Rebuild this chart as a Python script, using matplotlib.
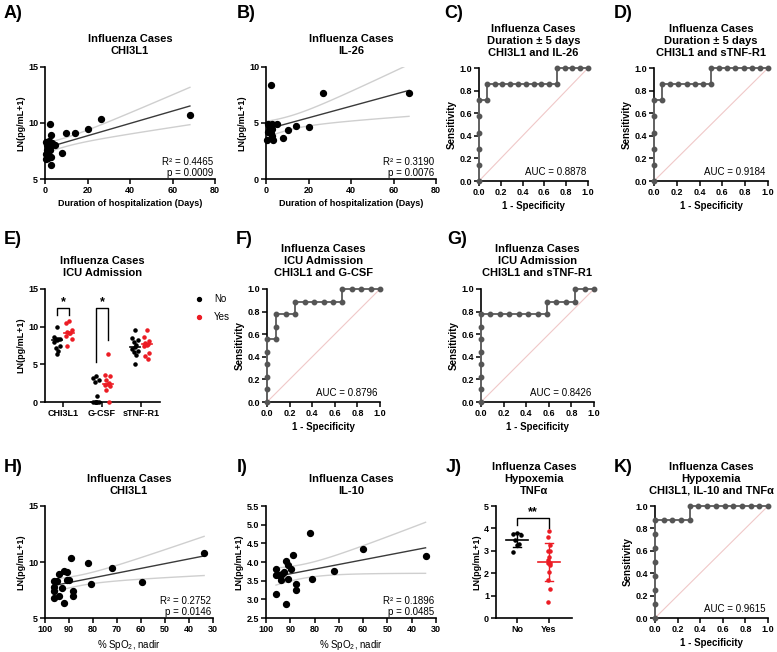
import numpy as np
import matplotlib
matplotlib.use("Agg")
import matplotlib.pyplot as plt

plt.rcParams['font.family'] = ['Liberation Sans', 'DejaVu Sans']
plt.rcParams['mathtext.default'] = 'regular'

W, H = 777, 652
RED = '#ec1c24'

# A) CHI3L1 vs duration of hospitalization
a_days = [0.5, 1.0, 0.8, 1.2, 0.6, 1.5, 0.3, 2.0, 2.2, 2.5, 3.0, 2.4, 2.8, 2.8,
          3.5, 4.7, 7.9, 9.9, 14.2, 20.0, 26.5, 68.2]
a_ln = [8.3, 8.0, 7.6, 7.4, 7.2, 6.9, 6.8, 8.4, 7.9, 7.6, 7.0, 9.87, 8.9, 6.25,
        8.2, 8.0, 7.3, 9.07, 9.15, 9.5, 10.4, 10.75]

# B) IL-26 vs duration of hospitalization
b_days = [2.4, 26.8, 67.3, 14.2, 10.2, 20.3, 7.9, 5.0, 0.8, 1.9, 3.0, 1.1, 0.3,
          3.0, 3.5, 2.4, 1.4, 2.7]
b_ln = [8.37, 7.69, 7.7, 4.72, 4.36, 4.6, 3.62, 4.9, 4.9, 4.66, 4.5, 4.2, 3.5,
        3.8, 3.5, 4.07, 4.72, 4.9]

# ROC curves (1 - specificity, sensitivity)
c_fpr = [0, 0, 0, 0, 0, 0, 1/14, 1/14] + [k/14 for k in range(2, 11)] + [10/14] + [k/14 for k in range(11, 15)]
c_tpr = [0, 1/7, 2/7, 3/7, 4/7, 5/7, 5/7, 6/7] + [6/7] * 9 + [1.0] + [1.0] * 4
d_fpr = [0, 0, 0, 0, 0, 0, 1/14, 1/14] + [k/14 for k in range(2, 8)] + [7/14] + [k/14 for k in range(8, 15)]
d_tpr = [0, 1/7, 2/7, 3/7, 4/7, 5/7, 5/7, 6/7] + [6/7] * 6 + [1.0] + [1.0] * 7
f_fpr = [0, 0, 0, 0, 0, 0, 1/12, 1/12, 1/12, 2/12, 3/12, 3/12, 4/12, 5/12, 6/12,
         7/12, 8/12, 8/12, 9/12, 10/12, 11/12, 1.0]
f_tpr = [0, 1/9, 2/9, 3/9, 4/9, 5/9, 5/9, 6/9, 7/9, 7/9, 7/9, 8/9, 8/9, 8/9, 8/9,
         8/9, 8/9, 1.0, 1.0, 1.0, 1.0, 1.0]
g_fpr = [0] * 8 + [k/12 for k in range(1, 8)] + [7/12, 8/12, 9/12, 10/12, 10/12, 11/12, 1.0]
g_tpr = [k/9 for k in range(0, 8)] + [7/9] * 7 + [8/9, 8/9, 8/9, 8/9, 1.0, 1.0, 1.0]
k_fpr = [0] * 8 + [1/13, 2/13, 3/13, 4/13, 4/13] + [k/13 for k in range(5, 14)]
k_tpr = [k/8 for k in range(0, 8)] + [7/8] * 4 + [1.0] + [1.0] * 9

# E) ICU admission (No / Yes)
e_markers = ['CHI3L1', 'G-CSF', 'sTNF-R1']
e_no = [[9.9, 8.6, 8.4, 8.3, 8.3, 8.2, 7.9, 7.5, 7.2, 6.8, 6.4],
        [3.4, 3.2, 2.9, 2.7, 0.8, 0.0, 0.0, 0.0, 0.0, 0.0, 0.0],
        [9.5, 8.5, 8.2, 7.9, 7.6, 7.3, 7.0, 6.8, 6.6, 6.3, 5.1]]
e_yes = [[10.8, 10.5, 9.6, 9.3, 9.2, 9.1, 8.7, 8.3, 7.4],
         [6.4, 3.6, 3.4, 2.9, 2.5, 2.4, 2.3, 2.1, 1.6, 0.0],
         [9.5, 8.6, 8.1, 7.8, 7.7, 7.6, 7.5, 6.5, 6.1, 5.7]]

# H) CHI3L1 vs SpO2 nadir
h_spo2 = [96.1, 95.1, 96.1, 96.1, 96.1, 94.0, 94.0, 93.0, 92.0, 91.0, 92.1, 91.0,
          90.0, 89.2, 88.2, 88.2, 82.0, 81.0, 72.0, 59.7, 33.7]
h_ln = [8.27, 8.3, 7.77, 7.4, 6.8, 8.9, 7.0, 7.68, 9.2, 9.1, 6.34, 8.36, 8.4,
        10.39, 7.4, 7.0, 9.9, 8.07, 9.5, 8.24, 10.77]

# I) IL-10 vs SpO2 nadir
i_spo2 = [95.9, 95.9, 95.9, 94.8, 93.8, 93.4, 92.7, 91.9, 91.9, 90.9, 90.9, 89.9,
          88.8, 87.7, 87.7, 81.9, 81.0, 72.0, 60.0, 34.3]
i_ln = [3.82, 3.64, 3.13, 3.64, 3.51, 3.69, 3.73, 4.04, 2.88, 3.91, 3.55, 3.82,
        4.18, 3.40, 3.26, 4.78, 3.55, 3.76, 4.35, 4.15]

# J) TNFa by hypoxemia
j_groups = ['No', 'Yes']
j_no = [3.8, 3.75, 3.7, 3.5, 3.3, 3.25, 2.95]
j_yes = [3.87, 3.62, 3.24, 2.98, 2.98, 2.72, 2.57, 2.47, 2.47, 2.38, 2.05, 1.68, 1.31, 0.71]


fig = plt.figure(figsize=(W / 100, H / 100), dpi=100)


def place(x0, x1, y0, y1):
    return fig.add_axes([x0 / W, 1 - y1 / H, (x1 - x0) / W, (y1 - y0) / H])


def style(ax, title):
    for s in ['top', 'right']:
        ax.spines[s].set_visible(False)
    for s in ['left', 'bottom']:
        ax.spines[s].set_linewidth(1.2)
    ax.tick_params(width=1.1, length=3.5, labelsize=6.5, pad=1.5)
    for t in ax.get_xticklabels() + ax.get_yticklabels():
        t.set_fontweight('bold')
    ax.set_title(title, fontsize=8, fontweight='bold', pad=9, linespacing=1.25)


def panel_label(x, y, label):
    fig.text(x / W, 1 - y / H, label, fontsize=13, fontweight='bold', va='center')


def regression(ax, x, y, r2, p):
    x = np.asarray(x)
    y = np.asarray(y)
    slope, icpt = np.polyfit(x, y, 1)
    n = len(x)
    s = np.sqrt(np.sum((y - (slope * x + icpt)) ** 2) / (n - 2))
    xs = np.linspace(x.min(), x.max(), 100)
    ys = slope * xs + icpt
    se = s * np.sqrt(1 / n + (xs - x.mean()) ** 2 / np.sum((x - x.mean()) ** 2))
    ax.plot(xs, ys + 2.09 * se, color='#cfcfcf', lw=1)
    ax.plot(xs, ys - 2.09 * se, color='#cfcfcf', lw=1)
    ax.plot(xs, ys, color='#3a3a3a', lw=1)
    ax.scatter(x, y, s=18, color='black', zorder=3, clip_on=False)
    ax.text(0.99, 0.15, f'R² = {r2}', transform=ax.transAxes, ha='right', va='center', fontsize=7)
    ax.text(0.99, 0.05, f'p = {p}', transform=ax.transAxes, ha='right', va='center', fontsize=7)
    ax.set_ylabel('LN(pg/mL+1)', fontsize=6.5, fontweight='bold', labelpad=2)


def roc(ax, fpr, tpr, auc):
    ax.plot([0, 1], [0, 1], color='#f0c8c8', lw=0.8)
    ax.plot(fpr, tpr, color='#666666', lw=1.4, marker='o', markersize=3.2,
            markerfacecolor='#555555', markeredgecolor='#555555', clip_on=False, zorder=3)
    ax.set_xlim(0, 1)
    ax.set_ylim(0, 1)
    ticks = np.arange(0, 1.01, 0.2)
    ax.set_xticks(ticks)
    ax.set_yticks(ticks)
    ax.set_xticklabels([f'{t:.1f}' for t in ticks])
    ax.set_yticklabels([f'{t:.1f}' for t in ticks])
    ax.text(0.98, 0.08, f'AUC = {auc}', transform=ax.transAxes, ha='right', va='center', fontsize=7)
    ax.set_xlabel('1 - Specificity', fontsize=7, fontweight='bold', labelpad=3)
    ax.set_ylabel('Sensitivity', fontsize=7, fontweight='bold', labelpad=2)


def spread(vals, center, w):
    pattern = [0, -1, 1, -0.5, 0.5]
    order = np.argsort(vals)[::-1]
    xs = np.zeros(len(vals))
    for k, idx in enumerate(order):
        xs[idx] = center + pattern[k % 5] * w
    return xs


def bracket(ax, x0, x1, ytop, yl, yr, mark):
    ax.plot([x0, x0, x1, x1], [yl, ytop, ytop, yr], color='black', lw=1)
    ax.text((x0 + x1) / 2, ytop, mark, ha='center', va='bottom', fontsize=9, fontweight='bold')


# --- A
ax = place(45, 215, 67, 179)
regression(ax, a_days, a_ln, '0.4465', '0.0009')
ax.set_xlim(0, 80)
ax.set_ylim(5, 15)
ax.set_xticks([0, 20, 40, 60, 80])
ax.set_yticks([5, 10, 15])
ax.set_xlabel('Duration of hospitalization (Days)', fontsize=6.5, fontweight='bold', labelpad=3)
style(ax, 'Influenza Cases\nCHI3L1')
panel_label(4, 14, 'A)')

# --- B
ax = place(266, 436, 67, 179)
regression(ax, b_days, b_ln, '0.3190', '0.0076')
ax.set_xlim(0, 80)
ax.set_ylim(0, 10)
ax.set_xticks([0, 20, 40, 60, 80])
ax.set_yticks([0, 5, 10])
ax.set_xlabel('Duration of hospitalization (Days)', fontsize=6.5, fontweight='bold', labelpad=3)
style(ax, 'Influenza Cases\nIL-26')
panel_label(237, 14, 'B)')

# --- C
ax = place(479, 588, 68, 181)
roc(ax, c_fpr, c_tpr, '0.8878')
style(ax, 'Influenza Cases\nDuration ± 5 days\nCHI3L1 and IL-26')
panel_label(444, 14, 'C)')

# --- D
ax = place(654, 768, 68, 181)
roc(ax, d_fpr, d_tpr, '0.9184')
style(ax, 'Influenza Cases\nDuration ± 5 days\nCHI3L1 and sTNF-R1')
panel_label(614, 14, 'D)')

# --- E
ax = place(45, 160, 289, 402)
for g in range(3):
    for vals, off, col in [(e_no[g], -0.15, 'black'), (e_yes[g], 0.15, RED)]:
        xs = spread(vals, g + off, 0.07)
        ax.scatter(xs, vals, s=5, color=col, zorder=3, clip_on=False)
        med = np.median(vals)
        ax.plot([g + off - 0.13, g + off + 0.13], [med, med], color=col, lw=1.2, clip_on=False)
bracket(ax, -0.15, 0.15, 12.5, 11.6, 11.6, '*')
bracket(ax, 0.85, 1.15, 12.5, 5.3, 8.2, '*')
ax.set_xlim(-0.46, 2.49)
ax.set_ylim(0, 15)
ax.set_xticks(range(3))
ax.set_xticklabels(e_markers)
ax.set_yticks([0, 5, 10, 15])
ax.set_ylabel('LN(pg/mL+1)', fontsize=6.5, fontweight='bold', labelpad=2)
style(ax, 'Influenza Cases\nICU Admission')
panel_label(4, 240, 'E)')
h_no = ax.scatter([], [], s=8, color='black')
h_yes = ax.scatter([], [], s=8, color=RED)
fig.legend([h_no, h_yes], ['No', 'Yes'], loc='upper left', bbox_to_anchor=(184 / W, 1 - 289 / H),
           frameon=False, fontsize=7, handletextpad=0.6, labelspacing=0.8, borderpad=0)

# --- F
ax = place(267, 380, 289, 402)
roc(ax, f_fpr, f_tpr, '0.8796')
style(ax, 'Influenza Cases\nICU Admission\nCHI3L1 and G-CSF')
panel_label(236, 240, 'F)')

# --- G
ax = place(481, 594, 289, 402)
roc(ax, g_fpr, g_tpr, '0.8426')
style(ax, 'Influenza Cases\nICU Admission\nCHI3L1 and sTNF-R1')
panel_label(447, 240, 'G)')

# --- H
ax = place(45, 213, 506, 618)
regression(ax, h_spo2, h_ln, '0.2752', '0.0146')
ax.set_xlim(100, 30)
ax.set_ylim(5, 15)
ax.set_xticks(range(100, 29, -10))
ax.set_yticks([5, 10, 15])
ax.set_xlabel('% SpO$_2$, nadir', fontsize=7, labelpad=3)
style(ax, 'Influenza Cases\nCHI3L1')
panel_label(4, 467, 'H)')

# --- I
ax = place(266, 436, 506, 618)
regression(ax, i_spo2, i_ln, '0.1896', '0.0485')
ax.set_xlim(100, 30)
ax.set_ylim(2.5, 5.5)
ax.set_xticks(range(100, 29, -10))
ax.set_yticks(np.arange(2.5, 5.51, 0.5))
ax.set_yticklabels([f'{t:.1f}' for t in np.arange(2.5, 5.51, 0.5)])
ax.set_xlabel('% SpO$_2$, nadir', fontsize=7, labelpad=3)
style(ax, 'Influenza Cases\nIL-10')
panel_label(237, 467, 'I)')

# --- J
ax = place(496, 572, 506, 618)
for g, (vals, col, w) in enumerate([(j_no, 'black', 0.12), (j_yes, RED, 0.04)]):
    xs = spread(vals, g, w)
    ax.scatter(xs, vals, s=5, color=col, zorder=3)
    m, sd = np.mean(vals), np.std(vals, ddof=1)
    ax.plot([g - 0.35, g + 0.35], [m, m], color=col, lw=1.2)
    ax.plot([g, g], [m - sd, m + sd], color=col, lw=1)
    ax.plot([g - 0.12, g + 0.12], [m + sd, m + sd], color=col, lw=1)
    ax.plot([g - 0.12, g + 0.12], [m - sd, m - sd], color=col, lw=1)
bracket(ax, 0, 1, 4.46, 4.14, 4.0, '**')
ax.set_xlim(-0.66, 1.72)
ax.set_ylim(0, 5)
ax.set_xticks([0, 1])
ax.set_xticklabels(j_groups)
ax.set_yticks(range(6))
ax.set_ylabel('LN(pg/mL+1)', fontsize=6.5, fontweight='bold', labelpad=2)
style(ax, 'Influenza Cases\nHypoxemia\nTNFα')
panel_label(446, 467, 'J)')

# --- K
ax = place(655, 768, 506, 618)
roc(ax, k_fpr, k_tpr, '0.9615')
style(ax, 'Influenza Cases\nHypoxemia\nCHI3L1, IL-10 and TNFα')
panel_label(614, 467, 'K)')

fig.savefig('out.png', dpi=100)
